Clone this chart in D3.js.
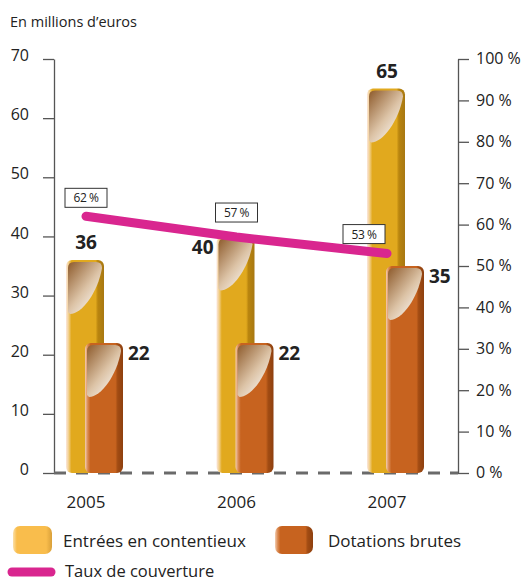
<!DOCTYPE html>
<html>
<head>
<meta charset="utf-8">
<script src="https://cdn.jsdelivr.net/npm/d3@7/dist/d3.min.js"></script>
<style>
  html, body { margin: 0; padding: 0; background: #fff; }
  svg text { font-family: "Open Sans", "Noto Sans", sans-serif; fill: #222; }
</style>
</head>
<body>
<svg id="chart" width="521" height="583"></svg>
<script>
// Data
const years = ["2005", "2006", "2007"];
const entrees = [36, 40, 65];          // Entrées en contentieux (M€)
const dotations = [22, 22, 35];        // Dotations brutes (M€)
const taux = [62, 57, 53];             // Taux de couverture (%)
const leftTicks = [0, 10, 20, 30, 40, 50, 60, 70];
const rightTicks = [0, 10, 20, 30, 40, 50, 60, 70, 80, 90, 100];

const svg = d3.select("#chart");

// Layout
const x0 = 54, x1 = 458, yTop = 59, yBot = 473;
const y = d3.scaleLinear().domain([0, 70]).range([yBot, yTop]);
const yPct = d3.scaleLinear().domain([0, 100]).range([yBot, yTop]);
const x = d3.scalePoint().domain(years).range([86, 387]);
const barW = 38;

// Gradients
const defs = svg.append("defs");
function barGrad(id, stops) {
  const g = defs.append("linearGradient").attr("id", id)
    .attr("x1", "0%").attr("x2", "100%").attr("y1", "0%").attr("y2", "0%");
  stops.forEach(s => g.append("stop").attr("offset", s[0]).attr("stop-color", s[1]));
}
barGrad("gYellow", [["0%", "#fbe6dc"], ["7%", "#f2cf8a"], ["14%", "#e1a91e"], ["78%", "#e1a91e"], ["84%", "#b9850f"], ["100%", "#a87812"]]);
barGrad("gOrange", [["0%", "#f3cdb2"], ["7%", "#db8c55"], ["14%", "#c7631f"], ["80%", "#c7631f"], ["86%", "#a24c13"], ["100%", "#8e400f"]]);
barGrad("gYellowLeg", [["0%", "#fbe0a8"], ["10%", "#f9bd4c"], ["85%", "#f9bd4c"], ["100%", "#d9a03a"]]);
const hl = defs.append("linearGradient").attr("id", "gShine")
  .attr("x1", "0%").attr("y1", "0%").attr("x2", "85%").attr("y2", "100%");
hl.append("stop").attr("offset", "0%").attr("stop-color", "#8d5a2b");
hl.append("stop").attr("offset", "55%").attr("stop-color", "#dcc3a6");
hl.append("stop").attr("offset", "100%").attr("stop-color", "#ffffff");

// Title
svg.append("text").attr("x", 10).attr("y", 27).attr("font-size", 14.5).text("En millions d\u2019euros");

// Left axis
const axL = svg.append("g").attr("transform", `translate(${x0},0)`)
  .call(d3.axisLeft(y).tickValues(leftTicks).tickSize(11).tickPadding(14).tickSizeOuter(0));
axL.select(".domain").attr("stroke", "#555").attr("stroke-width", 1.3);
axL.selectAll(".tick line").attr("stroke", "#555").attr("stroke-width", 1.3);
axL.selectAll(".tick text").attr("font-size", 16).attr("fill", "#222")
  .style("font-family", "'Open Sans', sans-serif").attr("dy", "0.1em");

// Right axis
const axR = svg.append("g").attr("transform", `translate(${x1},0)`)
  .call(d3.axisRight(yPct).tickValues(rightTicks).tickSize(11).tickPadding(7).tickSizeOuter(0)
    .tickFormat(d => d + "\u00a0%"));
axR.select(".domain").attr("stroke", "#555").attr("stroke-width", 1.3);
axR.selectAll(".tick line").attr("stroke", "#555").attr("stroke-width", 1.3);
axR.selectAll(".tick text").attr("font-size", 16).attr("fill", "#222")
  .style("font-family", "'Open Sans', sans-serif").attr("dy", "0.3em");

// Dashed baseline
svg.append("line").attr("x1", x0).attr("x2", x1).attr("y1", y(0)).attr("y2", y(0))
  .attr("stroke", "#6a6a6a").attr("stroke-width", 3).attr("stroke-dasharray", "12,10");

// Bars with a glossy top highlight
function drawBar(bx, v, fill) {
  const by = y(v), h = y(0) - by;
  const g = svg.append("g");
  g.append("rect").attr("x", bx).attr("y", by).attr("width", barW).attr("height", h)
    .attr("rx", 6).attr("ry", 6).attr("fill", `url(#${fill})`);
  const L = bx + 2, R = bx + barW - 2, T = by + 2;
  const d = `M${L},${T + 6} Q${L},${T} ${L + 6},${T} L${R - 6},${T} Q${R},${T} ${R},${T + 6}
    C${R - 4},${T + 30} ${L + 14},${T + 52} ${L + 2},${T + 52} L${L},${T + 50} Z`;
  g.append("path").attr("d", d).attr("fill", "url(#gShine)");
}
years.forEach((yr, i) => drawBar(x(yr) - barW / 2 - 1, entrees[i], "gYellow"));
years.forEach((yr, i) => drawBar(x(yr) - 1, dotations[i], "gOrange"));

// Value labels
const lab = svg.append("g");
years.forEach((yr, i) => {
  const t = lab.append("text").attr("font-weight", "bold").attr("font-size", 19);
  if (i === 1) {
    t.attr("x", x(yr) - barW / 2 - 4).attr("y", y(entrees[i]) + 18).attr("text-anchor", "end");
  } else {
    t.attr("x", x(yr)).attr("y", y(entrees[i]) - 11).attr("text-anchor", "middle");
  }
  t.text(entrees[i]);
  lab.append("text").attr("font-weight", "bold").attr("font-size", 19)
    .attr("x", x(yr) + barW + 4).attr("y", y(dotations[i]) + 17)
    .text(dotations[i]);
});

// Coverage line
const line = d3.line().x((d, i) => x(years[i])).y(d => yPct(d));
svg.append("path").datum(taux).attr("d", line).attr("fill", "none")
  .attr("stroke", "#d9268f").attr("stroke-width", 9).attr("stroke-linecap", "round");

// Percentage boxes
const boxOff = [[0, -9], [0, -15], [-23, -10]];
taux.forEach((p, i) => {
  const cx = x(years[i]) + boxOff[i][0], bottom = yPct(p) + boxOff[i][1];
  const bw = 42, bh = 19;
  svg.append("rect").attr("x", cx - bw / 2).attr("y", bottom - bh).attr("width", bw).attr("height", bh)
    .attr("fill", "#fff").attr("stroke", "#333").attr("stroke-width", 1);
  svg.append("text").attr("x", cx).attr("y", bottom - 5).attr("text-anchor", "middle")
    .attr("font-size", 12).attr("letter-spacing", "-0.5").text(p + "\u00a0%");
});

// Year labels
years.forEach(yr => {
  svg.append("text").attr("x", x(yr)).attr("y", 508).attr("text-anchor", "middle")
    .attr("font-size", 17).text(yr);
});

// Legend
const leg = svg.append("g");
leg.append("rect").attr("x", 13).attr("y", 526).attr("width", 39).attr("height", 28)
  .attr("rx", 7).attr("fill", "url(#gYellowLeg)");
leg.append("text").attr("x", 63).attr("y", 547).attr("font-size", 17).text("Entrées en contentieux");
leg.append("rect").attr("x", 275).attr("y", 526).attr("width", 38).attr("height", 28)
  .attr("rx", 7).attr("fill", "url(#gOrange)");
leg.append("text").attr("x", 328).attr("y", 547).attr("font-size", 17).text("Dotations brutes");
leg.append("line").attr("x1", 12).attr("x2", 51).attr("y1", 572).attr("y2", 572)
  .attr("stroke", "#d9268f").attr("stroke-width", 9).attr("stroke-linecap", "round");
leg.append("text").attr("x", 65).attr("y", 577).attr("font-size", 16.5).text("Taux de couverture");
</script>
</body>
</html>
